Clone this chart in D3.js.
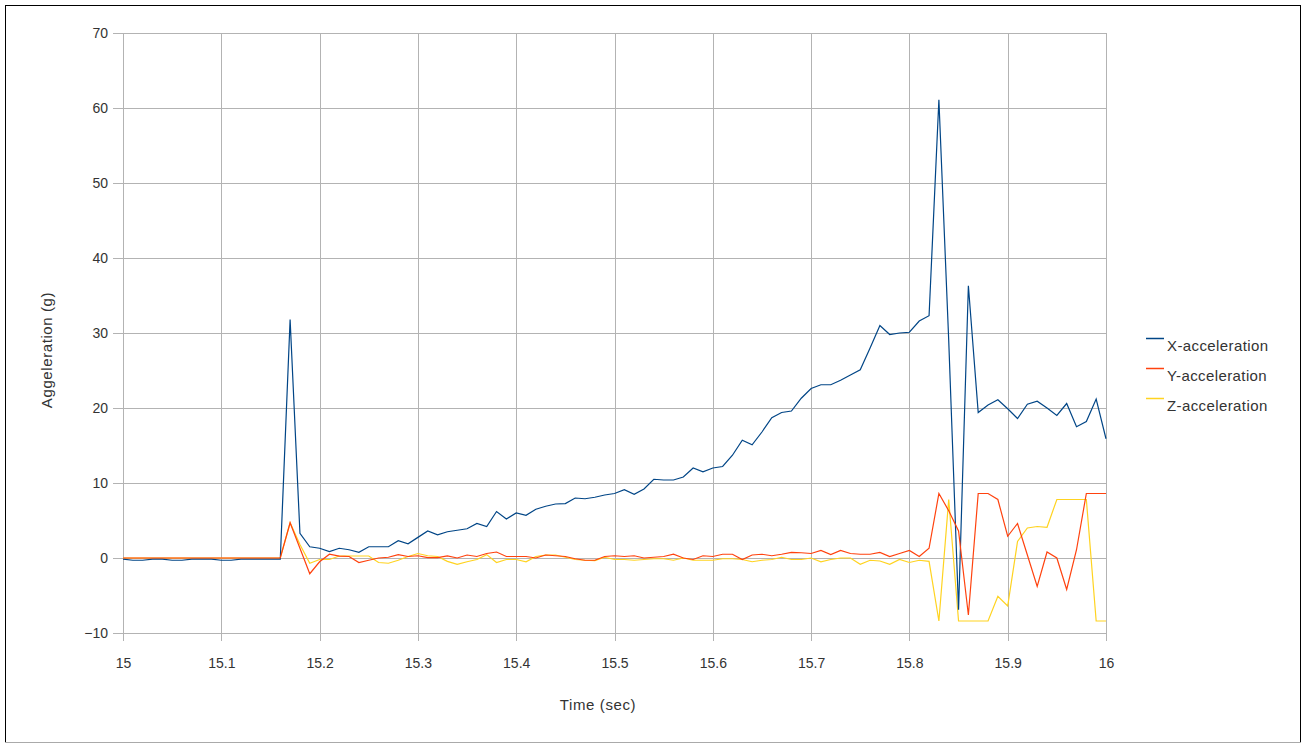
<!DOCTYPE html>
<html>
<head>
<meta charset="utf-8">
<script src="https://cdn.jsdelivr.net/npm/d3@7"></script>
<style>
  body { margin: 0; background: #fff; }
  svg { display: block; font-family: "Liberation Sans", Arial, sans-serif; }
</style>
</head>
<body>
<script>
// sample times (sec)
var times = [15.00, 15.01, 15.02, 15.03, 15.04, 15.05, 15.06, 15.07, 15.08, 15.09,
  15.10, 15.11, 15.12, 15.13, 15.14, 15.15, 15.16, 15.17, 15.18, 15.19,
  15.20, 15.21, 15.22, 15.23, 15.24, 15.25, 15.26, 15.27, 15.28, 15.29,
  15.30, 15.31, 15.32, 15.33, 15.34, 15.35, 15.36, 15.37, 15.38, 15.39,
  15.40, 15.41, 15.42, 15.43, 15.44, 15.45, 15.46, 15.47, 15.48, 15.49,
  15.50, 15.51, 15.52, 15.53, 15.54, 15.55, 15.56, 15.57, 15.58, 15.59,
  15.60, 15.61, 15.62, 15.63, 15.64, 15.65, 15.66, 15.67, 15.68, 15.69,
  15.70, 15.71, 15.72, 15.73, 15.74, 15.75, 15.76, 15.77, 15.78, 15.79,
  15.80, 15.81, 15.82, 15.83, 15.84, 15.85, 15.86, 15.87, 15.88, 15.89,
  15.90, 15.91, 15.92, 15.93, 15.94, 15.95, 15.96, 15.97, 15.98, 15.99, 16.00];

var xAccel = [-0.15, -0.3, -0.3, -0.15, -0.15, -0.3, -0.3, -0.15, -0.15, -0.15,
  -0.3, -0.3, -0.15, -0.15, -0.15, -0.15, -0.15, 31.8, 3.3, 1.5,
  1.3, 0.85, 1.3, 1.1, 0.75, 1.5, 1.5, 1.5, 2.3, 1.9,
  2.75, 3.6, 3.1, 3.5, 3.7, 3.9, 4.6, 4.2, 6.2, 5.2,
  6.0, 5.7, 6.5, 6.9, 7.2, 7.25, 8.0, 7.9, 8.1, 8.4,
  8.6, 9.1, 8.5, 9.2, 10.5, 10.4, 10.4, 10.8, 12.0, 11.5,
  12.0, 12.2, 13.7, 15.7, 15.1, 16.8, 18.7, 19.4, 19.6, 21.3,
  22.6, 23.1, 23.1, 23.7, 24.4, 25.1, 28.0, 31.0, 29.8, 30.0,
  30.1, 31.6, 32.3, 61.1, 29.0, -6.9, 36.3, 19.4, 20.4, 21.1,
  19.9, 18.6, 20.5, 20.9, 20.0, 19.0, 20.6, 17.5, 18.2, 21.2, 15.9];

var yAccel = [0, 0, 0, 0, 0, 0, 0, 0, 0, 0,
  0, 0, 0, 0, 0, 0, 0, 4.7, 1.3, -2.1,
  -0.5, 0.5, 0.25, 0.2, -0.6, -0.3, 0, 0.1, 0.45, 0.2,
  0.3, 0.05, 0.05, 0.27, 0, 0.4, 0.2, 0.6, 0.8, 0.2,
  0.2, 0.2, 0, 0.4, 0.3, 0.2, -0.1, -0.3, -0.3, 0.2,
  0.3, 0.2, 0.3, 0, 0.1, 0.2, 0.5, 0, -0.2, 0.3,
  0.2, 0.5, 0.5, -0.2, 0.4, 0.5, 0.3, 0.5, 0.75, 0.7,
  0.6, 1.0, 0.45, 1.0, 0.6, 0.5, 0.5, 0.75, 0.2, 0.6,
  1.0, 0.2, 1.3, 8.6, 6.3, 3.6, -7.6, 8.6, 8.6, 7.8,
  2.9, 4.6, 0.4, -3.8, 0.8, 0, -4.2, 1.1, 8.6, 8.6, 8.6];

var zAccel = [0, 0, 0, 0, 0, 0, 0, 0, 0, 0,
  0, 0, 0, 0, 0, 0, 0, 4.7, 1.8, -0.7,
  -0.2, -0.2, 0.27, 0.27, 0.27, 0.27, -0.6, -0.7, -0.3, 0.2,
  0.6, 0.3, 0.2, -0.45, -0.85, -0.5, -0.2, 0.45, -0.6, -0.2,
  -0.2, -0.5, 0.2, 0.4, 0.4, 0.1, -0.2, -0.3, -0.35, 0.1,
  -0.2, -0.2, -0.3, -0.2, -0.1, -0.1, -0.3, 0, -0.3, -0.3,
  -0.3, -0.1, -0.1, -0.2, -0.5, -0.3, -0.2, 0.1, -0.2, -0.2,
  0, -0.5, -0.2, 0, 0, -0.85, -0.3, -0.4, -0.85, -0.2,
  -0.6, -0.3, -0.45, -8.4, 7.8, -8.4, -8.4, -8.4, -8.4, -5.1,
  -6.4, 2.2, 4.0, 4.2, 4.1, 7.8, 7.8, 7.8, 7.8, -8.4, -8.4];

var seriesNames = ['X-acceleration', 'Y-acceleration', 'Z-acceleration'];
var seriesColors = ['#004586', '#ff420e', '#ffd320'];
var xTicks = [15, 15.1, 15.2, 15.3, 15.4, 15.5, 15.6, 15.7, 15.8, 15.9, 16];
var yTicks = [-10, 0, 10, 20, 30, 40, 50, 60, 70];

var width = 1303,
    height = 745;

// plot area edges
var plotLeft = 123, plotRight = 1106, plotTop = 33, plotBottom = 633;

var svg = d3.select('body').append('svg')
    .attr('width', width)
    .attr('height', height);

// outer frame
svg.append('rect')
    .attr('x', 5.5).attr('y', 5.5)
    .attr('width', 1295).attr('height', 737)
    .attr('fill', 'none')
    .attr('stroke', '#000');
svg.append('line')
    .attr('x1', 5).attr('x2', 1301).attr('y1', 742.5).attr('y2', 742.5)
    .attr('stroke', '#aaa');

var x = d3.scaleLinear().domain([15, 16]).range([plotLeft, plotRight]);
var y = d3.scaleLinear().domain([-10, 70]).range([plotBottom, plotTop]);

// y grid + ticks
var yAxis = svg.append('g')
    .attr('transform', 'translate(' + plotRight + ',0)')
    .call(d3.axisLeft(y).tickValues(yTicks).tickSize(plotRight - plotLeft + 10).tickPadding(5)
      .tickFormat(d3.format('d')));

// x grid + ticks
var xAxis = svg.append('g')
    .attr('transform', 'translate(0,' + plotTop + ')')
    .call(d3.axisBottom(x).tickValues(xTicks).tickSize(plotBottom - plotTop + 8).tickPadding(17)
      .tickFormat(function(d) { return String(+d.toFixed(1)); }));

[xAxis, yAxis].forEach(function(a) {
  a.select('.domain').remove();
  a.selectAll('line').attr('stroke', '#b3b3b3').attr('shape-rendering', 'crispEdges');
  a.selectAll('text').attr('fill', '#333').style('font-size', '14px');
});

// axis titles
svg.append('text')
    .attr('x', 598).attr('y', 710)
    .attr('text-anchor', 'middle')
    .attr('fill', '#333')
    .style('font-size', '15px')
    .style('letter-spacing', '0.6px')
    .text('Time (sec)');

svg.append('text')
    .attr('transform', 'translate(52,350) rotate(-90)')
    .attr('text-anchor', 'middle')
    .attr('fill', '#333')
    .style('font-size', '15px')
    .style('letter-spacing', '0.6px')
    .text('Aggeleration (g)');

// series lines
var line = d3.line()
    .x(function(d) { return x(d[0]); })
    .y(function(d) { return y(d[1]); });

var seriesData = [xAccel, yAccel, zAccel];
var drawOrder = [2, 0, 1];
drawOrder.forEach(function(i) {
  svg.append('path')
      .datum(times.map(function(t, j) { return [t, seriesData[i][j]]; }))
      .attr('fill', 'none')
      .attr('stroke', seriesColors[i])
      .attr('stroke-width', 1.2)
      .attr('d', line);
});

// legend
var legend = svg.append('g').attr('transform', 'translate(1146,338)');
seriesNames.forEach(function(name, i) {
  legend.append('line')
      .attr('x1', 0).attr('x2', 18)
      .attr('y1', i * 30 + 0.5).attr('y2', i * 30 + 0.5)
      .attr('stroke', seriesColors[i])
      .attr('stroke-width', 1.5);
  legend.append('text')
      .attr('x', 21).attr('y', i * 30 + 13)
      .attr('fill', '#333')
      .style('font-size', '15px')
      .style('letter-spacing', '0.4px')
      .text(name);
});
</script>
</body>
</html>
